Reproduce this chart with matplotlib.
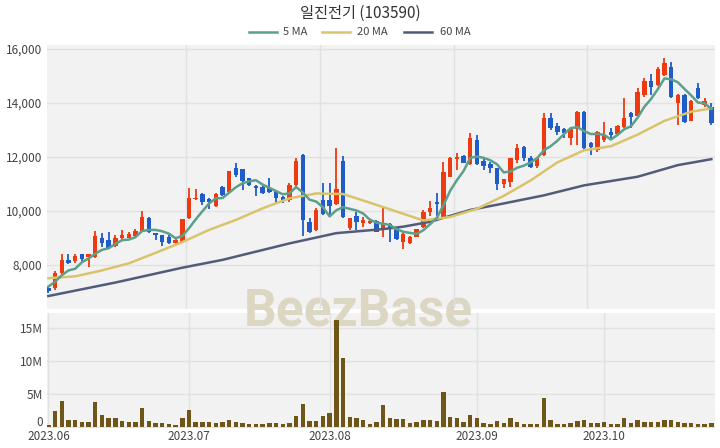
import matplotlib
matplotlib.use('Agg')

import matplotlib.pyplot as plt
import matplotlib.transforms as mtransforms
from matplotlib.lines import Line2D
from matplotlib.patches import Rectangle
from matplotlib.ticker import FuncFormatter

plt.rcParams['font.family'] = ['Noto Sans CJK KR', 'DejaVu Sans']

title = '일진전기 (103590)'

# daily candles, 2023.06.01 ~ 2023.10.26 (trading days)
opens = [7160, 7130, 7700, 8180, 8160, 8390, 8310, 8310, 9010, 8920,
         8700, 8990, 9010, 9070, 9270, 9730, 9200, 9110, 9020, 8830,
         8860, 9730, 10430, 10630, 10440, 10180, 10880, 10720, 11580, 11540,
         11210, 10930, 10900, 10840, 10750, 10530, 10410, 10960, 12070, 9600,
         9290, 10410, 10410, 10260, 11860, 9360, 9810, 9540, 9540, 9640,
         9360, 9520, 9390, 8860, 8830, 9050, 9390, 9970, 10340, 9730,
         11270, 11910, 12050, 11740, 12630, 11860, 11740, 11580, 11000, 11090,
         11890, 12360, 11950, 11670, 12070, 13450, 13150, 13020, 12690, 13050,
         13680, 12530, 12260, 12630, 12940, 12850, 13120, 13640, 13520, 14300,
         14830, 14670, 15040, 15320, 14010, 14300, 13350, 14540, 13930, 13840]
highs = [7180, 7790, 8390, 8390, 8390, 8400, 8400, 9270, 9170, 9210,
         9110, 9300, 9230, 9320, 10010, 9790, 9200, 9120, 9110, 8950,
         9700, 10840, 10800, 10650, 10500, 10650, 10930, 11500, 11790, 11560,
         11230, 10960, 10930, 11210, 10770, 10550, 11050, 11950, 12100, 9730,
         10100, 11020, 11020, 12320, 12040, 9740, 9970, 9760, 9680, 9660,
         10160, 9540, 9420, 9270, 9060, 9330, 10040, 10380, 10650, 11830,
         12000, 12160, 12060, 12880, 12810, 11950, 11830, 11600, 11190, 11970,
         12480, 12410, 12040, 11970, 13620, 13620, 13250, 13060, 13120, 13720,
         13700, 12550, 12960, 13310, 13060, 13170, 14170, 13660, 14540, 14910,
         15070, 15350, 15650, 15530, 14320, 14320, 14100, 14730, 14170, 13990]
lows = [6980, 7090, 7680, 8050, 8080, 8160, 7940, 8250, 8650, 8580,
        8680, 8920, 8990, 9050, 9230, 9200, 8920, 8700, 8780, 8780,
        8800, 9700, 10400, 10220, 10060, 10160, 10550, 10700, 11250, 10780,
        10930, 10550, 10630, 10680, 10310, 10280, 10340, 10900, 9070, 9200,
        9270, 9850, 9810, 10220, 9730, 9300, 9300, 9390, 9510, 9210,
        9050, 8860, 8930, 8580, 8780, 9030, 9360, 9810, 9810, 9700,
        11250, 11520, 11770, 11720, 11700, 11520, 11420, 10780, 10840, 10900,
        11790, 11860, 11580, 11580, 12050, 13000, 12810, 12690, 12440, 12450,
        12260, 12070, 12200, 12570, 12630, 12830, 13060, 13060, 13500, 14230,
        14300, 14640, 14990, 14170, 13180, 13250, 13320, 14150, 13840, 13180]
closes = [7020, 7690, 8180, 8080, 8330, 8210, 8390, 9070, 8800, 8620,
          9010, 9110, 9150, 9270, 9760, 9230, 9110, 8860, 8830, 8920,
          9690, 10500, 10500, 10340, 10340, 10630, 10590, 11480, 11330, 11110,
          10960, 10840, 10680, 10720, 10500, 10380, 10960, 11860, 9670, 9230,
          10040, 9890, 10200, 10800, 9760, 9730, 9600, 9670, 9640, 9230,
          9520, 9320, 8950, 9130, 9050, 9320, 9970, 10100, 10260, 11460,
          11950, 12010, 11790, 12690, 11740, 11670, 11580, 11000, 11170, 11950,
          12320, 11950, 11620, 11950, 13450, 13060, 12940, 12880, 13020, 13650,
          12320, 12380, 12940, 12810, 12810, 13150, 13430, 13470, 14420, 14830,
          14580, 15250, 15490, 14230, 14300, 13310, 14090, 14170, 14090, 13250]
# volume in millions of shares
volume = [0.25, 2.4, 3.9, 1.0, 1.0, 0.66, 0.66, 3.7, 1.8, 1.3,
          1.4, 0.86, 0.66, 0.66, 2.9, 0.9, 0.6, 0.6, 0.4, 0.2,
          1.4, 2.5, 0.76, 0.66, 0.66, 0.5, 0.66, 1.0, 0.76, 0.6,
          0.4, 0.4, 0.4, 0.5, 0.5, 0.4, 0.55, 1.6, 3.45, 0.9,
          0.9, 1.7, 2.1, 16.3, 10.5, 1.5, 1.3, 1.0, 0.4, 0.66,
          3.3, 1.4, 1.2, 1.2, 0.5, 0.66, 1.0, 1.1, 0.86, 5.3,
          1.5, 1.3, 0.76, 1.8, 1.3, 0.5, 0.45, 0.86, 0.6, 1.4,
          0.76, 0.45, 0.4, 0.35, 4.4, 1.1, 0.4, 0.35, 0.5, 0.9,
          1.1, 0.6, 0.6, 0.66, 0.4, 0.4, 1.4, 0.6, 1.0, 0.66,
          0.66, 0.66, 1.0, 1.0, 0.66, 0.5, 0.5, 0.4, 0.4, 0.5]

ma5 = [7200, 7380, 7620, 7800, 7860, 8100, 8240, 8420, 8560, 8620,
       8780, 8920, 8940, 9030, 9260, 9300, 9300, 9250, 9160, 8990,
       9080, 9360, 9690, 9990, 10280, 10470, 10480, 10680, 10880, 11030,
       11100, 11140, 10980, 10860, 10740, 10620, 10650, 10890, 10680, 10420,
       10350, 10140, 9800, 10030, 10140, 10080, 10020, 9910, 9680, 9570,
       9530, 9480, 9330, 9230, 9190, 9150, 9290, 9510, 9740, 10220,
       10750, 11140, 11480, 11970, 12020, 11970, 11880, 11730, 11430, 11470,
       11600, 11680, 11800, 11960, 12250, 12400, 12600, 12850, 13070, 13110,
       12960, 12850, 12860, 12820, 12650, 12820, 13030, 13140, 13460, 13860,
       14150, 14510, 14910, 14880, 14770, 14520, 14280, 14020, 13990, 13780]
ma20_x = [0, 4, 8, 12, 16, 20, 24, 28, 32, 36, 40, 44, 48, 52, 56, 60,
          64, 68, 72, 76, 80, 84, 88, 92, 96, 99]
ma20 = [7510, 7580, 7800, 8060, 8450, 8850, 9300, 9670, 10100, 10470, 10650,
        10630, 10310, 9980, 9650, 9780, 10080, 10560, 11130, 11800, 12250,
        12400, 12830, 13340, 13680, 13800]
ma60_x = [0, 10, 20, 26, 36, 43, 50, 53, 57, 63, 68, 74, 80, 88, 94, 99]
ma60 = [6850, 7350, 7900, 8190, 8800, 9180, 9330, 9420, 9600, 10040, 10280,
        10580, 10950, 11270, 11700, 11920]

month_pos = [0, 21, 42, 64, 83]
month_labels = ['2023.06', '2023.07', '2023.08', '2023.09', '2023.10']
price_ticks = [8000, 10000, 12000, 14000, 16000]
vol_ticks = [0, 5, 10, 15]

UP = '#ee3a10'
DOWN = '#1f5cc7'
C5, C20, C60 = '#5c9f8a', '#d9c46c', '#525c7a'
BG = '#f2f2f2'
GRID = '#e2e2e2'
TXT = '#444444'

W, H = 720, 448
fig = plt.figure(figsize=(7.2, 4.48), dpi=100)

left, right = 46.7 / W, 715 / W
p_top, p_bot = 45, 309
v_top, v_bot = 313, 427.5
pbox = [left, 1 - p_bot / H, right - left, (p_bot - p_top) / H]
vbox = [left, 1 - v_bot / H, right - left, (v_bot - v_top) / H]

# panel backgrounds + watermark sit behind the (transparent) axes
for b in (pbox, vbox):
    fig.patches.append(Rectangle((b[0], b[1]), b[2], b[3], transform=fig.transFigure,
                                 facecolor=BG, edgecolor='none', zorder=-3))
fig.text(358 / W, 1 - 311 / H, 'BeezBase', family='Roboto', weight='bold',
         fontsize=37, color='#dcd7c2', ha='center', va='center', zorder=-2)

ax = fig.add_axes(pbox)
axv = fig.add_axes(vbox, sharex=ax)
for a in (ax, axv):
    a.patch.set_alpha(0)
    for s in a.spines.values():
        s.set_visible(False)
    a.tick_params(length=0, labelsize=8.5, labelcolor=TXT)

x = list(range(len(closes)))
cols = [UP if c >= o else DOWN for o, c in zip(opens, closes)]
bottoms = [min(o, c) for o, c in zip(opens, closes)]
heights = [max(abs(c - o), 25) for o, c in zip(opens, closes)]

ax.vlines(x, lows, highs, colors=cols, linewidth=1.3, zorder=2)
ax.bar(x, heights, bottom=bottoms, width=0.66, color=cols, linewidth=0, zorder=3)
ax.plot(ma60_x, ma60, color=C60, lw=1.8, zorder=4)
ax.plot(ma20_x, ma20, color=C20, lw=1.8, zorder=4)
ax.plot(x, ma5, color=C5, lw=1.8, zorder=4)

ax.set_xlim(-0.25, 99.55)
ax.set_ylim(6370, 16150)
ax.set_yticks(price_ticks)
ax.yaxis.set_major_formatter(FuncFormatter(lambda v, p: f'{int(v):,}'))
ax.grid(axis='y', color=GRID, lw=1)
for gx in [20.5, 40.5, 60.5, 80.5]:
    ax.axvline(gx, color=GRID, lw=1, zorder=0)
ax.tick_params(axis='x', labelbottom=False)
ax.tick_params(axis='y', pad=3)

axv.bar(x, volume, width=0.66, color='#6e5518', linewidth=0, zorder=3)
axv.set_ylim(-0.12, 17.35)
axv.set_yticks(vol_ticks)
axv.set_yticklabels(['0', '5M', '10M', '15M'])
axv.set_xticks(month_pos)
axv.set_xticklabels(month_labels)
axv.grid(color=GRID, lw=1)
axv.set_axisbelow(True)
axv.tick_params(axis='y', pad=3)
axv.tick_params(axis='x', pad=2)
# lift the "0" label a little so it clears the first date label
zero = axv.get_yticklabels()[0]
zero.set_transform(zero.get_transform() +
                   mtransforms.ScaledTranslation(0, 4 / 72, fig.dpi_scale_trans))

fig.text(0.5, 1 - 13 / H, title, ha='center', va='center', fontsize=11,
         color='#333333', weight='light')

# legend row
items = [(249, 283, '5 MA', C5), (322, 357, '20 MA', C20), (404, 440, '60 MA', C60)]
ly = 1 - 32 / H
for x0, tx, lab, c in items:
    fig.add_artist(Line2D([x0 / W, (x0 + 28) / W], [ly, ly], color=c, lw=1.8,
                          transform=fig.transFigure))
    fig.text(tx / W, ly, lab, ha='left', va='center', fontsize=8, color=TXT)

fig.savefig('out.png', dpi=100)
